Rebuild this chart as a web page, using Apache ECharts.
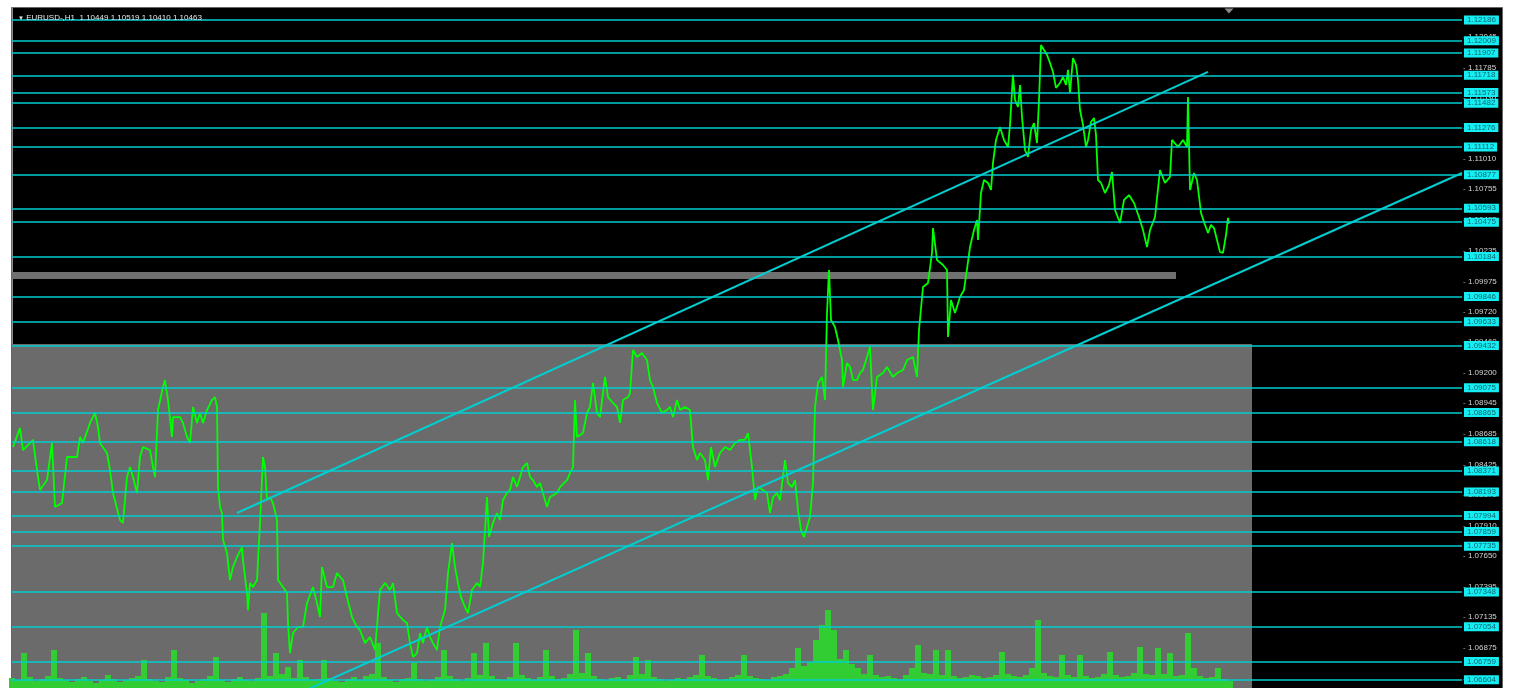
<!DOCTYPE html>
<html>
<head>
<meta charset="utf-8">
<script src="https://cdn.jsdelivr.net/npm/echarts@6/dist/echarts.min.js"></script>
<style>
  html, body { margin: 0; padding: 0; background: #fff; }
  #chart { width: 1516px; height: 688px; }
</style>
</head>
<body>
<div id="chart"></div>
<script>
// header quote
const symbolName = 'EURUSD-'
const timeframe = 'H1'
const lastOHLC = [1.10449, 1.10519, 1.10410, 1.10463]

// price scale (visible window) and axis ticks
const priceMin = 1.06535
const priceMax = 1.12287
const hoursVisible = 1450
const tickPrices = [1.12045, 1.11785, 1.11530, 1.11270, 1.11010, 1.10755, 1.10495, 1.10235, 1.09975, 1.09720, 1.09460,
  1.09200, 1.08945, 1.08685, 1.08425, 1.08170, 1.07910, 1.07650, 1.07395, 1.07135, 1.06875, 1.06615]

// horizontal support / resistance levels
const levelPrices = [1.12186, 1.12009, 1.11907, 1.11718, 1.11573, 1.11482, 1.11276, 1.11112, 1.10877, 1.10593, 1.10475,
  1.10184, 1.09846, 1.09633, 1.09432, 1.09075, 1.08865, 1.08618, 1.08371, 1.08193, 1.07994, 1.07859, 1.07735,
  1.07348, 1.07054, 1.06759, 1.06604]

// channel trend lines
const upperChannelHours = [225, 1196]
const upperChannelPrices = [1.08015, 1.11746]
const lowerChannelHours = [278, 1450]
const lowerChannelPrices = [1.06456, 1.10891]

// shaded zones [hourFrom, hourTo, priceLow, priceHigh]
const zoneLower = [0, 1240, priceMin, 1.09445]
const zoneBand = [0, 1164, 1.09995, 1.10054]

// close price, [hour, price]
const closeByHour = [
  [1,1.08573],[8,1.08734],[11,1.08548],[18,1.08607],[21,1.08633],[25,1.08379],[28,1.08210],[35,1.08294],[40,1.08607],
  [43,1.08066],[50,1.08100],[55,1.08489],[65,1.08489],[68,1.08658],[71,1.08607],[78,1.08777],[83,1.08861],[86,1.08743],
  [88,1.08607],[95,1.08523],[98,1.08379],[101,1.08184],[108,1.07956],[111,1.07931],[115,1.08320],[118,1.08404],
  [121,1.08320],[125,1.08184],[128,1.08489],[131,1.08573],[138,1.08548],[141,1.08404],[143,1.08320],[146,1.08886],
  [151,1.09081],[153,1.09140],[156,1.08971],[160,1.08658],[161,1.08827],[168,1.08827],[171,1.08777],[175,1.08658],
  [178,1.08607],[181,1.08912],[185,1.08777],[188,1.08861],[191,1.08777],[195,1.08886],[200,1.08971],[203,1.08996],
  [205,1.08912],[206,1.08235],[208,1.08066],[210,1.08015],[211,1.07787],[215,1.07676],[218,1.07448],[221,1.07558],
  [225,1.07643],[230,1.07727],[231,1.07617],[235,1.07338],[236,1.07194],[238,1.07423],[241,1.07389],[245,1.07448],
  [248,1.07931],[251,1.08489],[253,1.08404],[255,1.08125],[258,1.08150],[261,1.08100],[265,1.07956],[266,1.07448],
  [271,1.07389],[275,1.07338],[276,1.07085],[278,1.06830],[281,1.07000],[286,1.07051],
  [291,1.07051],[295,1.07254],[301,1.07389],[305,1.07254],[308,1.07135],[310,1.07558],[315,1.07389],[321,1.07389],
  [325,1.07507],[331,1.07448],[335,1.07304],[340,1.07135],[345,1.07051],[348,1.07025],[353,1.06915],[358,1.06966],
  [363,1.06856],[368,1.07364],[373,1.07423],[378,1.07364],[381,1.07423],[385,1.07169],[391,1.07110],[395,1.07085],
  [398,1.06915],[401,1.06797],[405,1.06830],[408,1.07000],[411,1.06915],[415,1.07051],[418,1.06966],[421,1.06915],
  [425,1.06856],[428,1.07051],[433,1.07194],[436,1.07507],[440,1.07761],[443,1.07558],[446,1.07423],[449,1.07304],
  [453,1.07220],[456,1.07169],[460,1.07364],[465,1.07423],[468,1.07389],[471,1.07592],[475,1.08150],[477,1.07812],
  [481,1.07931],[485,1.08015],[488,1.07956],[491,1.08125],[495,1.08184],[498,1.08210],[501,1.08320],[505,1.08235],
  [508,1.08320],[511,1.08404],[515,1.08438],[518,1.08320],[521,1.08294],[525,1.08235],[528,1.08269],[531,1.08184],
  [535,1.08066],[538,1.08150],[545,1.08184],[548,1.08235],[555,1.08294],[558,1.08353],[561,1.08404],[563,1.08971],
  [565,1.08658],[571,1.08692],[575,1.08861],[578,1.08912],[581,1.09115],[585,1.08861],[588,1.08827],[593,1.09166],
  [596,1.08996],[601,1.08946],[605,1.08912],[608,1.08777],[611,1.08971],[616,1.08996],[618,1.09030],[621,1.09394],
  [625,1.09335],[630,1.09369],[635,1.09309],[638,1.09140],[641,1.09081],[645,1.08946],[650,1.08861],[655,1.08886],
  [658,1.08912],[661,1.08827],[665,1.08971],[668,1.08886],[673,1.08912],[678,1.08886],[681,1.08573],[685,1.08463],
  [688,1.08523],[693,1.08463],[696,1.08294],[699,1.08573],[703,1.08404],[708,1.08523],[713,1.08573],[718,1.08548],
  [723,1.08607],[728,1.08633],[733,1.08633],[736,1.08692],[740,1.08404],[743,1.08125],[746,1.08235],[751,1.08210],
  [755,1.08184],[758,1.08015],[761,1.08150],[765,1.08184],[768,1.08125],[773,1.08463],[776,1.08269],[780,1.08235],
  [783,1.08294],[786,1.08040],[789,1.07871],[792,1.07812],[795,1.07897],[798,1.07981],[801,1.08269],[803,1.08912],
  [806,1.09115],[810,1.09166],[813,1.08971],[815,1.09707],[817,1.10071],[819,1.09648],[823,1.09589],[826,1.09479],
  [830,1.09309],[831,1.09081],[835,1.09284],[838,1.09250],[841,1.09140],[845,1.09140],[848,1.09199],[851,1.09225],
  [858,1.09419],[861,1.08886],[865,1.09166],[871,1.09199],[875,1.09250],[881,1.09166],[885,1.09199],[891,1.09225],
  [895,1.09309],[901,1.09335],[905,1.09166],[907,1.09563],[911,1.09927],[916,1.09961],[920,1.10215],[921,1.10426],
  [925,1.10155],[931,1.10113],[935,1.10071],[936,1.09504],[939,1.09817],[943,1.09707],[948,1.09842],[952,1.09902],
  [956,1.10139],
  [958,1.10265],[962,1.10409],[965,1.10494],[966,1.10325],[969,1.10722],[972,1.10832],[976,1.10807],[979,1.10748],
  [981,1.10976],[984,1.11171],[988,1.11281],[992,1.11171],[996,1.11111],[998,1.11298],[1001,1.11721],[1003,1.11509],
  [1006,1.11450],[1008,1.11636],[1010,1.11365],[1013,1.11086],[1016,1.11027],[1019,1.11255],[1022,1.11314],
  [1025,1.11145],[1027,1.11509],[1029,1.11974],[1032,1.11932],[1035,1.11890],[1038,1.11822],[1041,1.11746],
  [1044,1.11611],[1048,1.11653],[1051,1.11704],[1054,1.11636],[1056,1.11763],[1058,1.11568],[1061,1.11864],
  [1064,1.11805],[1066,1.11678],[1068,1.11424],[1071,1.11298],[1074,1.11111],[1076,1.11171],[1079,1.11323],
  [1082,1.11357],[1084,1.11213],[1086,1.10832],[1089,1.10807],[1093,1.10722],[1097,1.10790],[1100,1.10900],
  [1103,1.10578],[1108,1.10468],[1112,1.10663],[1117,1.10705],[1122,1.10638],[1127,1.10519],[1131,1.10409],
  [1135,1.10265],[1138,1.10409],[1143,1.10519],[1148,1.10917],[1153,1.10807],[1158,1.10858],[1160,1.11171],
  [1166,1.11111],[1171,1.11171],[1175,1.11111],[1176,1.11534],[1178,1.10748],[1182,1.10891],[1185,1.10832],
  [1189,1.10553],[1193,1.10452],[1196,1.10384],[1199,1.10452],[1202,1.10426],[1205,1.10325],[1208,1.10223],
  [1211,1.10215],[1214,1.10367],[1216,1.10511],[1217,1.10463]
]

// tick volume, one value per 6 hours starting at hour 0
const volumeStepHours = 6
const volumeValues = [
  1000,800,3500,1100,700,900,1200,3800,1000,800,600,900,
  1100,700,500,800,1300,900,600,800,1000,1200,2800,900,
  700,600,1100,3800,1000,800,500,700,900,1200,3100,800,
  600,900,1100,800,700,1000,7500,1200,3500,1400,2100,1000,
  2800,1100,800,900,2800,1000,700,600,900,1100,800,1200,
  1400,4500,1100,800,600,900,1000,2500,900,700,800,1100,
  3800,1200,900,700,1000,3500,1300,4500,1200,900,800,1100,
  4500,1300,1000,800,1100,3800,1200,900,1000,1400,5800,1500,
  3500,1200,900,800,1000,1100,900,1300,3100,1400,2800,1100,
  900,700,800,1000,900,1100,1300,3300,1200,1000,800,900,
  1100,1300,3300,1200,1000,900,800,1100,1200,1400,2000,4000,
  2200,2600,4800,6300,7800,5800,2900,3800,2400,2000,1400,3300,
  1300,1100,1200,1000,900,1300,2000,4300,1500,1400,3800,1300,
  3800,1200,1000,1100,1300,1200,1000,1100,1300,3600,1400,1200,
  1100,1300,2000,6800,1500,1200,1100,3300,1300,1100,3300,1200,
  1000,1100,1400,3600,1300,1100,1200,1500,4100,1400,1300,4000,
  1400,3500,1200,1300,5500,2000,1200,1000,1100,2000,900,700
]
const volumeMax = 68000

const levelColor = '#00ced1'

const chart = echarts.init(document.getElementById('chart'), null, { renderer: 'canvas' })

function pairs(xs, ys) {
  return xs.map((x, i) => [x, ys[i]])
}

const option = {
  backgroundColor: '#ffffff',
  animation: false,
  textStyle: { fontFamily: 'Liberation Sans' },
  graphic: [{
    type: 'rect',
    z: -100,
    silent: true,
    shape: { x: 11.5, y: 7.5, width: 1491, height: 690 },
    style: { fill: '#000000', stroke: '#666666', lineWidth: 1 }
  }],
  title: {
    left: 13,
    top: 9,
    text: `{tri|▼} ${symbolName},${timeframe}  ${lastOHLC.map(v => v.toFixed(5)).join(' ')}`,
    textStyle: {
      color: '#e6e6e6', fontSize: 8, fontWeight: 'normal', fontFamily: 'Liberation Sans',
      rich: { tri: { fontSize: 6, color: '#e6e6e6' } }
    }
  },
  grid: { left: 12, right: 54, top: 8, bottom: 0 },
  xAxis: { type: 'value', min: 0, max: hoursVisible, show: false },
  yAxis: [
    {
      type: 'value',
      position: 'right',
      min: priceMin,
      max: priceMax,
      splitLine: { show: false },
      axisLine: { show: true, lineStyle: { color: '#8c8c8c', width: 1 } },
      // tick marks drawn with the label (custom ticks land on the wrong side here)
      axisTick: { show: false },
      axisLabel: {
        customValues: tickPrices,
        formatter: v => '{d|-} ' + v.toFixed(5),
        color: '#d2d2d2', fontSize: 8, margin: 1, fontFamily: 'Liberation Sans',
        rich: { d: { color: '#a8a8a8', fontSize: 8, fontFamily: 'Liberation Sans' } }
      }
    },
    { type: 'value', min: 0, max: volumeMax, show: false }
  ],
  series: [
    {
      name: 'zones',
      type: 'line',
      data: [],
      silent: true,
      markArea: {
        silent: true,
        itemStyle: { color: '#6b6b6b' },
        data: [
          [{ xAxis: zoneLower[0], yAxis: zoneLower[3] }, { xAxis: zoneLower[1], yAxis: zoneLower[2] }],
          [{ xAxis: zoneBand[0], yAxis: zoneBand[3], itemStyle: { color: '#707070' } }, { xAxis: zoneBand[1], yAxis: zoneBand[2] }]
        ]
      }
    },
    {
      name: 'volume',
      type: 'bar',
      yAxisIndex: 1,
      barWidth: volumeStepHours,
      data: volumeValues.map((v, i) => [i * volumeStepHours, v]),
      itemStyle: { color: '#32cd32' },
      silent: true,
      z: 2
    },
    {
      name: symbolName,
      type: 'line',
      data: closeByHour,
      symbol: 'none',
      lineStyle: { color: '#00ff00', width: 1.8 },
      silent: true,
      z: 3,
      markPoint: {
        silent: true,
        data: [{
          coord: [closeByHour[closeByHour.length - 1][0], priceMax],
          symbol: 'triangle', symbolRotate: 180, symbolSize: [9, 5], symbolOffset: [0, 3],
          itemStyle: { color: '#8a8a8a' }, label: { show: false }
        }]
      }
    },
    {
      name: 'upper channel',
      type: 'line',
      data: pairs(upperChannelHours, upperChannelPrices),
      symbol: 'none',
      lineStyle: { color: levelColor, width: 2 },
      silent: true,
      z: 4
    },
    {
      name: 'lower channel',
      type: 'line',
      data: pairs(lowerChannelHours, lowerChannelPrices),
      symbol: 'none',
      clip: true,
      lineStyle: { color: levelColor, width: 2 },
      silent: true,
      z: 4
    },
    {
      name: 'levels',
      type: 'line',
      data: [],
      silent: true,
      markLine: {
        silent: true,
        precision: 5,
        symbol: ['none', 'none'],
        lineStyle: { color: levelColor, width: 1.6, type: 'solid' },
        label: {
          position: 'end',
          distance: 2,
          formatter: p => Number(p.value).toFixed(5),
          backgroundColor: '#14eef2',
          color: '#0b6570',
          fontSize: 8,
          lineHeight: 8,
          padding: [1, 3, 0, 3],
          fontFamily: 'Liberation Sans'
        },
        emphasis: { disabled: true },
        data: levelPrices.map(v => ({ yAxis: v }))
      }
    }
  ]
}

chart.setOption(option)
</script>
</body>
</html>
